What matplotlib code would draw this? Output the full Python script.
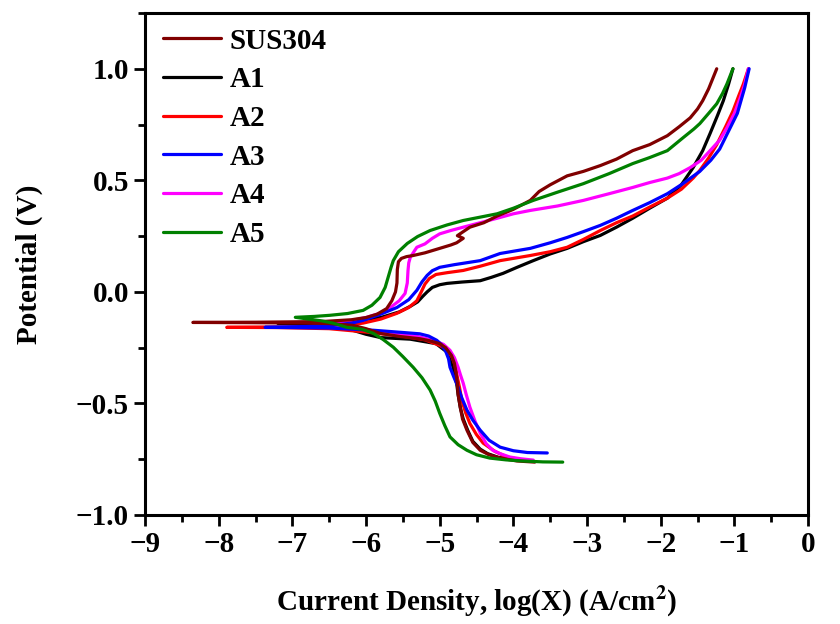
import matplotlib
matplotlib.use('Agg')
import matplotlib.pyplot as plt
from matplotlib.ticker import MultipleLocator

plt.rcParams['font.family'] = ['Liberation Serif', 'DejaVu Serif']
plt.rcParams['font.weight'] = 'bold'
plt.rcParams['mathtext.fontset'] = 'stix'

# polarization curves: cathodic branch (bottom -> Ecorr), then anodic branch (Ecorr -> top)
sus304_x = [-3.71, -3.95, -4.18, -4.33, -4.45, -4.55, -4.63, -4.69, -4.72, -4.75, -4.76, -4.78, -4.80, -4.84, -4.92,
            -5.0, -5.15, -5.27, -5.54, -5.81, -6.0, -6.18, -6.5, -6.8, -7.6, -8.35,
            -7.5, -6.6, -6.2, -6.0, -5.85, -5.72, -5.65, -5.6, -5.58, -5.575, -5.56, -5.52, -5.45, -5.36, -5.2,
            -5.0, -4.85, -4.77, -4.68, -4.76, -4.68, -4.59, -4.40, -4.22, -4.0, -3.77, -3.65, -3.5, -3.27, -3.05,
            -2.82, -2.6, -2.38, -2.15, -1.91, -1.75, -1.6, -1.5, -1.43, -1.35, -1.24]
sus304_y = [-0.763, -0.758, -0.745, -0.73, -0.71, -0.675, -0.62, -0.57, -0.517, -0.46, -0.41, -0.36, -0.32, -0.285, -0.25,
            -0.232, -0.218, -0.21, -0.20, -0.186, -0.165, -0.15, -0.142, -0.14, -0.138, -0.137,
            -0.136, -0.133, -0.125, -0.115, -0.1, -0.075, -0.04, 0.0, 0.04, 0.1, 0.135, 0.15, 0.158, 0.163, 0.175,
            0.195, 0.21, 0.22, 0.24, 0.252, 0.27, 0.29, 0.31, 0.34, 0.37, 0.41, 0.45, 0.48, 0.52, 0.54,
            0.566, 0.595, 0.633, 0.66, 0.70, 0.74, 0.78, 0.82, 0.857, 0.91, 1.0]

a1_x = [-3.80, -4.0, -4.2, -4.35, -4.45, -4.55, -4.62, -4.68, -4.72, -4.75, -4.77, -4.8, -4.82, -4.86, -4.9, -5.05,
        -5.4, -5.8, -6.0, -6.2, -6.8, -7.2,
        -6.8, -6.2, -5.8, -5.55, -5.4, -5.3, -5.23, -5.17, -5.1, -5.0, -4.9, -4.7, -4.45, -4.3, -4.14, -3.95,
        -3.73, -3.5, -3.27, -3.05, -2.82, -2.6, -2.38, -2.15, -1.91, -1.72, -1.56, -1.43, -1.33, -1.23, -1.15,
        -1.08, -1.02]
a1_y = [-0.757, -0.752, -0.742, -0.725, -0.705, -0.67, -0.62, -0.57, -0.52, -0.46, -0.41, -0.37, -0.335, -0.3, -0.27, -0.232,
        -0.212, -0.205, -0.19, -0.17, -0.145, -0.14,
        -0.138, -0.13, -0.115, -0.09, -0.065, -0.045, -0.02, 0.0, 0.02, 0.032, 0.038, 0.044, 0.05, 0.065, 0.083, 0.11,
        0.14, 0.17, 0.195, 0.225, 0.253, 0.29, 0.33, 0.375, 0.42, 0.48, 0.557, 0.633, 0.71, 0.79, 0.857,
        0.93, 1.0]

a2_x = [-3.73, -3.9, -4.09, -4.25, -4.41, -4.5, -4.59, -4.65, -4.7, -4.73, -4.76, -4.79, -4.83, -4.9, -5.0, -5.2,
        -5.54, -6.0, -6.5, -7.2, -7.89,
        -7.0, -6.5, -6.2, -6.04, -5.8, -5.58, -5.42, -5.31, -5.25, -5.2, -5.14, -5.05, -4.9, -4.68, -4.45, -4.18,
        -3.77, -3.5, -3.27, -3.05, -2.82, -2.6, -2.38, -2.15, -1.91, -1.72, -1.56, -1.47, -1.35, -1.24, -1.12,
        -1.02, -0.94, -0.88, -0.81]
a2_y = [-0.758, -0.752, -0.74, -0.715, -0.678, -0.64, -0.59, -0.54, -0.485, -0.43, -0.383, -0.33, -0.293, -0.26, -0.24, -0.215,
        -0.197, -0.18, -0.165, -0.16, -0.159,
        -0.157, -0.153, -0.147, -0.14, -0.122, -0.096, -0.07, -0.04, 0.0, 0.035, 0.06, 0.078, 0.086, 0.096, 0.115, 0.14,
        0.163, 0.18, 0.2, 0.235, 0.275, 0.31, 0.34, 0.38, 0.42, 0.46, 0.51, 0.544, 0.6, 0.66, 0.74,
        0.81, 0.88, 0.93, 1.0]

a3_x = [-3.54, -3.81, -4.0, -4.18, -4.33, -4.45, -4.55, -4.63, -4.7, -4.75, -4.81, -4.86, -4.88, -4.92, -4.98, -5.04,
        -5.15, -5.27, -5.54, -5.9, -6.5, -7.0, -7.37,
        -6.8, -6.4, -6.2, -6.04, -5.8, -5.58, -5.42, -5.31, -5.24, -5.17, -5.1, -5.0, -4.8, -4.45, -4.18, -3.77,
        -3.5, -3.27, -3.05, -2.82, -2.6, -2.38, -2.15, -1.91, -1.7, -1.47, -1.32, -1.2, -1.08, -0.96, -0.86, -0.8]
a3_y = [-0.722, -0.72, -0.712, -0.696, -0.665, -0.62, -0.575, -0.53, -0.475, -0.427, -0.38, -0.338, -0.3, -0.265, -0.235, -0.217,
        -0.198, -0.188, -0.181, -0.172, -0.162, -0.16, -0.159,
        -0.155, -0.148, -0.14, -0.128, -0.1, -0.07, -0.035, 0.007, 0.045, 0.074, 0.095, 0.11, 0.122, 0.14, 0.172, 0.195,
        0.22, 0.244, 0.27, 0.298, 0.33, 0.365, 0.4, 0.44, 0.485, 0.54, 0.59, 0.64, 0.72, 0.8, 0.915, 1.0]

a4_x = [-3.73, -3.9, -4.05, -4.18, -4.28, -4.37, -4.45, -4.52, -4.59, -4.64, -4.68, -4.72, -4.75, -4.8, -4.86, -4.95,
        -5.09, -5.3, -5.54, -6.0, -6.3, -6.6,
        -6.3, -6.0, -5.8, -5.67, -5.55, -5.47, -5.44, -5.43, -5.42, -5.4, -5.35, -5.31, -5.2, -5.1, -5.0, -4.85,
        -4.68, -4.45, -4.22, -4.0, -3.77, -3.4, -3.05, -2.7, -2.38, -2.15, -1.91, -1.75, -1.6, -1.45, -1.33,
        -1.2, -1.1, -1.0, -0.92, -0.86, -0.81]
a4_y = [-0.754, -0.748, -0.74, -0.725, -0.71, -0.68, -0.633, -0.58, -0.517, -0.46, -0.41, -0.37, -0.338, -0.295, -0.262, -0.235,
        -0.217, -0.2, -0.19, -0.17, -0.155, -0.145,
        -0.135, -0.115, -0.095, -0.07, -0.04, -0.007, 0.04, 0.096, 0.13, 0.154, 0.18, 0.2, 0.215, 0.24, 0.26, 0.275,
        0.29, 0.31, 0.33, 0.35, 0.365, 0.385, 0.41, 0.44, 0.468, 0.49, 0.51, 0.53, 0.557, 0.59, 0.633,
        0.68, 0.736, 0.8, 0.87, 0.93, 1.0]

a5_x = [-3.33, -3.6, -3.87, -4.1, -4.32, -4.5, -4.63, -4.75, -4.86, -4.93, -5.0, -5.06, -5.13, -5.24, -5.36, -5.5,
        -5.63, -5.77, -5.9, -6.05, -6.26, -6.45, -6.6, -6.96,
        -6.7, -6.49, -6.25, -6.04, -5.92, -5.81, -5.74, -5.7, -5.66, -5.63, -5.56, -5.44, -5.3, -5.13, -4.9,
        -4.68, -4.45, -4.22, -4.0, -3.73, -3.4, -3.05, -2.7, -2.38, -2.15, -1.91, -1.7, -1.55, -1.47, -1.35,
        -1.24, -1.16, -1.1, -1.02]
a5_y = [-0.763, -0.762, -0.758, -0.753, -0.745, -0.73, -0.71, -0.685, -0.65, -0.6, -0.544, -0.49, -0.44, -0.385, -0.338, -0.29,
        -0.248, -0.213, -0.186, -0.168, -0.159, -0.14, -0.13, -0.114,
        -0.11, -0.105, -0.097, -0.083, -0.06, -0.025, 0.02, 0.065, 0.11, 0.14, 0.18, 0.217, 0.248, 0.275, 0.3,
        0.32, 0.335, 0.35, 0.375, 0.41, 0.447, 0.485, 0.53, 0.575, 0.602, 0.633, 0.69, 0.73, 0.754, 0.8,
        0.843, 0.89, 0.933, 1.0]

labels = ['SUS304', 'A1', 'A2', 'A3', 'A4', 'A5']
colors = ['#800000', '#000000', '#ff0000', '#0000ff', '#ff00ff', '#008000']
xs = [sus304_x, a1_x, a2_x, a3_x, a4_x, a5_x]
ys = [sus304_y, a1_y, a2_y, a3_y, a4_y, a5_y]
zorders = [2.5, 2.0, 2.1, 2.3, 2.2, 2.6]

fig = plt.figure(figsize=(8.4, 6.24), dpi=100)
ax = fig.add_axes([0.1726, 0.1747, 0.7894, 0.8045])

for x, y, c, lab, z in zip(xs, ys, colors, labels, zorders):
    ax.plot(x, y, color=c, lw=2.3, label=lab, zorder=z,
            solid_capstyle='round', solid_joinstyle='round')

ax.set_xlim(-9, 0)
ax.set_ylim(-1.0, 1.25)
ax.xaxis.set_major_locator(MultipleLocator(1))
ax.xaxis.set_minor_locator(MultipleLocator(0.5))
ax.set_yticks([-1.0, -0.5, 0.0, 0.5, 1.0])
ax.yaxis.set_minor_locator(MultipleLocator(0.25))
ax.tick_params(which='both', direction='out', width=2, labelsize=21, top=False, right=False)
ax.tick_params(which='major', length=8)
ax.tick_params(which='minor', length=5)
for s in ax.spines.values():
    s.set_linewidth(2.2)

ax.set_xlabel(r'Current Density, log(X) (A/cm$^\mathbf{2}$)', fontsize=21, fontweight='bold', labelpad=18)
ax.set_ylabel('Potential (V)', fontsize=21, fontweight='bold', labelpad=24)

ax.legend(loc='upper left', frameon=False, fontsize=21, handlelength=2.0, handletextpad=0.3,
          labelspacing=0.4, borderaxespad=0.1, bbox_to_anchor=(0.005, 1.0))

fig.savefig('out.png', dpi=100)
